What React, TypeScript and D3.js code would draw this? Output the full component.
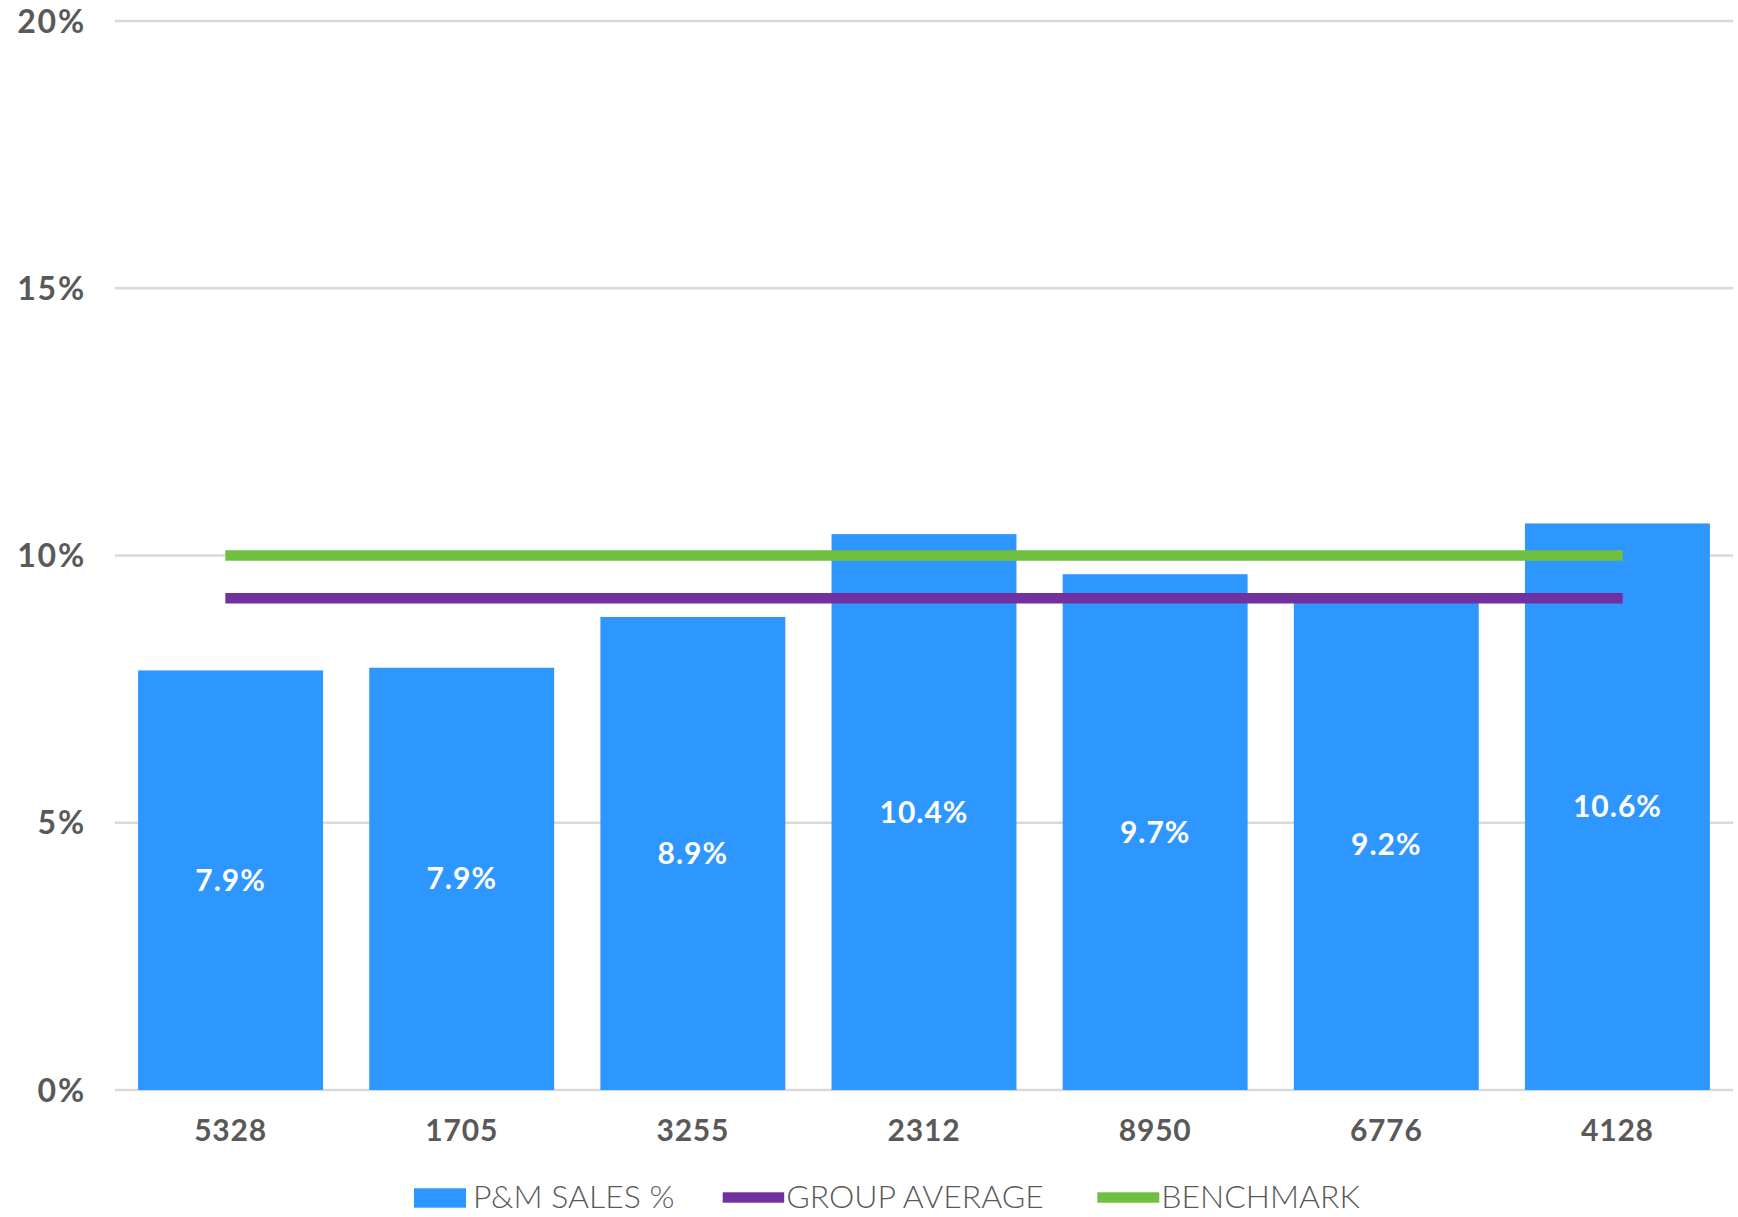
import React from "react";
import * as d3 from "d3";

const categories = ["5328", "1705", "3255", "2312", "8950", "6776", "4128"];
const salesPct = [7.85, 7.9, 8.85, 10.4, 9.65, 9.17, 10.6];
const salesLabels = ["7.9%", "7.9%", "8.9%", "10.4%", "9.7%", "9.2%", "10.6%"];
const groupAverage = [9.2, 9.2, 9.2, 9.2, 9.2, 9.2, 9.2];
const benchmark = [10, 10, 10, 10, 10, 10, 10];
const yTicks = [0, 5, 10, 15, 20];
const legendItems = ["P&M SALES %", "GROUP AVERAGE", "BENCHMARK"];

const W = 1738;
const H = 1217;
const BLUE = "#2E96FF";
const PURPLE = "#7030A0";
const GREEN = "#6FBF40";
const GRAY = "#595959";
const FONT = "Lato, 'Open Sans', sans-serif";

export default function App() {
  const x = d3
    .scaleBand<string>()
    .domain(categories)
    .range([115, 1733])
    .paddingInner(0.2)
    .paddingOuter(0.1);
  const y = d3.scaleLinear().domain([0, 20]).range([1090, 21]);

  const lineGen = d3
    .line<number>()
    .x((_, i) => (x(categories[i]) as number) + x.bandwidth() / 2)
    .y((d) => y(d));

  const legendX = [414, 722.7, 1097.3];
  const legendSwatchW = [52, 61.5, 62];

  return (
    <svg
      width={W}
      height={H}
      style={{ position: "absolute", left: 0, top: 0, display: "block", background: "#fff" }}
    >
      {yTicks.map((t) => (
        <g key={t}>
          <line x1={115} x2={1733} y1={y(t)} y2={y(t)} stroke="#D9D9D9" strokeWidth={2.5} />
          <text
            x={86}
            y={y(t) + 11.5}
            textAnchor="end"
            fontFamily={FONT}
            fontWeight={700}
            fontSize={32}
            letterSpacing={1.8}
            fill={GRAY}
          >
            {t}%
          </text>
        </g>
      ))}

      {categories.map((c, i) => (
        <rect
          key={c}
          x={x(c)}
          y={y(salesPct[i])}
          width={x.bandwidth()}
          height={y(0) - y(salesPct[i])}
          fill={BLUE}
        />
      ))}

      <path
        d={lineGen(groupAverage) || ""}
        fill="none"
        stroke={PURPLE}
        strokeWidth={10.5}
        strokeLinecap="square"
      />
      <path
        d={lineGen(benchmark) || ""}
        fill="none"
        stroke={GREEN}
        strokeWidth={10.5}
        strokeLinecap="square"
      />

      {categories.map((c, i) => (
        <text
          key={"l" + c}
          x={(x(c) as number) + x.bandwidth() / 2}
          y={(y(salesPct[i]) + y(0)) / 2 + 10.5}
          textAnchor="middle"
          fontFamily={FONT}
          fontWeight={700}
          fontSize={30}
          letterSpacing={1}
          fill="#FFFFFF"
        >
          {salesLabels[i]}
        </text>
      ))}

      {categories.map((c) => (
        <text
          key={"x" + c}
          x={(x(c) as number) + x.bandwidth() / 2}
          y={1141}
          textAnchor="middle"
          fontFamily={FONT}
          fontWeight={700}
          fontSize={30}
          letterSpacing={0.8}
          fill={GRAY}
        >
          {c}
        </text>
      ))}

      {legendItems.map((label, i) => (
        <g key={label}>
          {i === 0 ? (
            <rect x={legendX[0]} y={1188.3} width={legendSwatchW[0]} height={19.4} fill={BLUE} />
          ) : (
            <rect
              x={legendX[i]}
              y={1192.3}
              width={legendSwatchW[i]}
              height={10.4}
              fill={i === 1 ? PURPLE : GREEN}
            />
          )}
          <text
            x={legendX[i] + legendSwatchW[i] + (i === 0 ? 7 : 2)}
            y={1207.7}
            fontFamily={FONT}
            fontWeight={300}
            fontSize={32}
            fill={GRAY}
          >
            {label}
          </text>
        </g>
      ))}
    </svg>
  );
}
